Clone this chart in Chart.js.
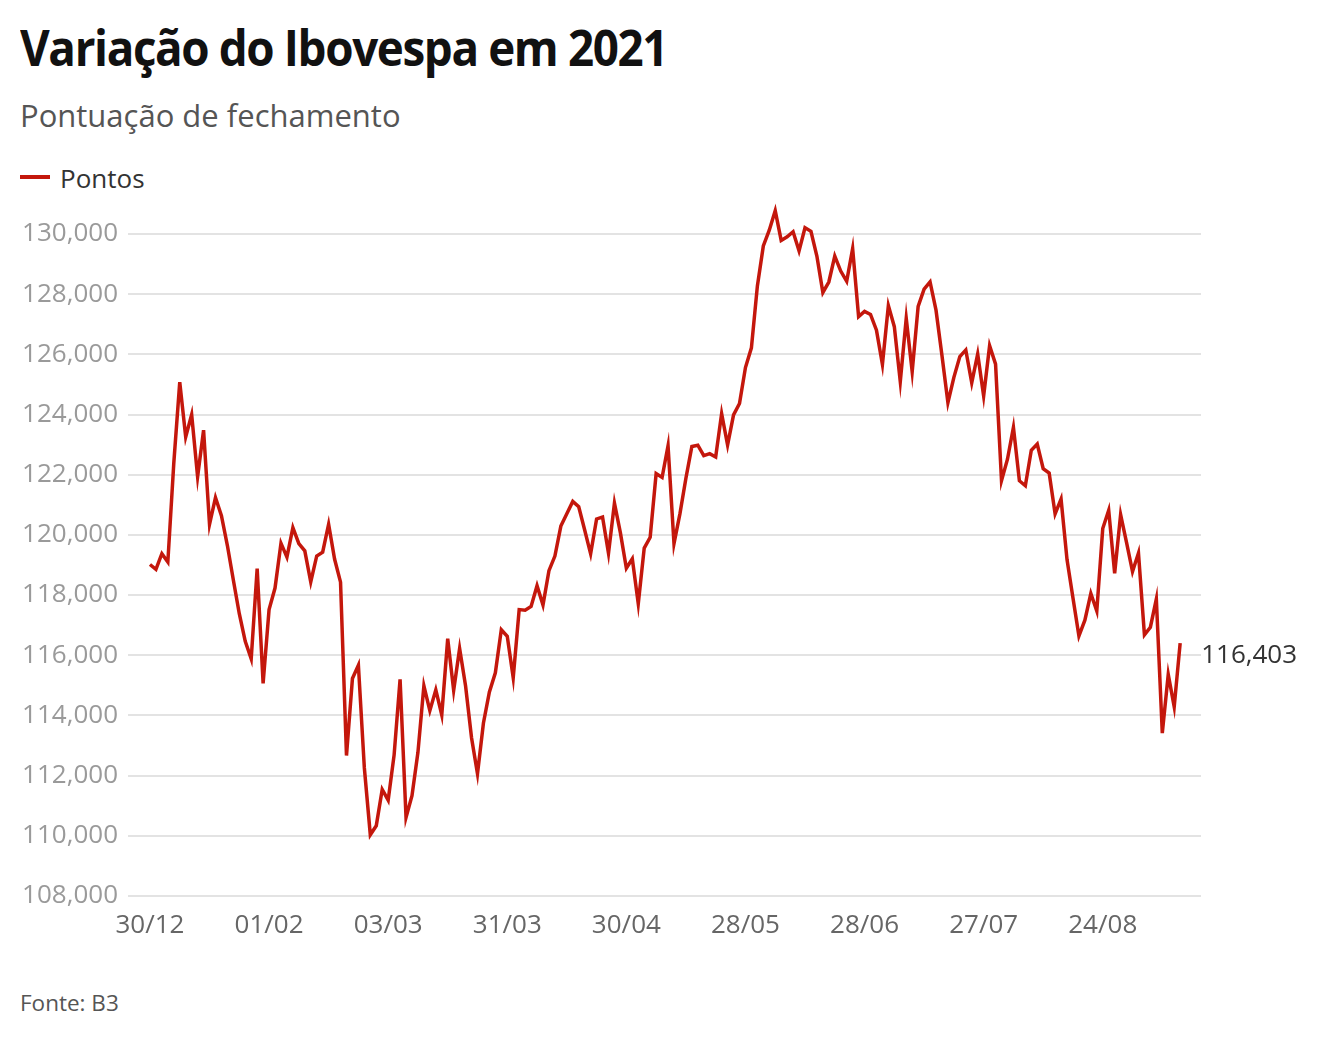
<!DOCTYPE html>
<html lang="pt-BR">
<head>
<meta charset="utf-8">
<script src="https://cdn.jsdelivr.net/npm/chart.js@4/dist/chart.umd.min.js"></script>
<style>
  html, body { margin: 0; padding: 0; background: #fff; }
  body { width: 1340px; height: 1040px; position: relative; overflow: hidden; font-family: 'Open Sans', sans-serif; }
  .txt { position: absolute; left: 20px; white-space: nowrap; line-height: 1; }
  #title { top: 22px; font-size: 50px; font-weight: 700; color: #111; letter-spacing: -1.5px; transform-origin: 0 0; }
  #subtitle { top: 100px; font-size: 31px; color: #555; }
  #legend { top: 165px; font-size: 26px; color: #333; }
  #legend .sw { position: absolute; left: 0; top: 10px; width: 30px; height: 4px; background: #c4170c; }
  #legend span.lbl { margin-left: 40px; }
  #source { top: 992px; font-size: 22.5px; color: #555; }
  #wrap { position: absolute; left: 0; top: 200px; width: 1340px; height: 760px; }
</style>
</head>
<body>
<div class="txt" id="title">Variação do Ibovespa em 2021</div>
<div class="txt" id="subtitle">Pontuação de fechamento</div>
<div class="txt" id="legend"><span class="sw"></span><span class="lbl">Pontos</span></div>
<div class="txt" id="source">Fonte: B3</div>
<div id="wrap"><canvas id="chart"></canvas></div>
<script>
// Trading days (dd/mm), 30/12/2020 to 13/09/2021
const dates = [
  '30/12',
  '04/01','05/01','06/01','07/01','08/01','11/01','12/01','13/01','14/01','15/01',
  '18/01','19/01','20/01','21/01','22/01','26/01','27/01','28/01','29/01',
  '01/02','02/02','03/02','04/02','05/02','08/02','09/02','10/02','11/02','12/02',
  '17/02','18/02','19/02','22/02','23/02','24/02','25/02','26/02',
  '01/03','02/03','03/03','04/03','05/03','08/03','09/03','10/03','11/03','12/03',
  '15/03','16/03','17/03','18/03','19/03','22/03','23/03','24/03','25/03','26/03',
  '29/03','30/03','31/03',
  '01/04','05/04','06/04','07/04','08/04','09/04','12/04','13/04','14/04','15/04',
  '16/04','19/04','20/04','22/04','23/04','26/04','27/04','28/04','29/04','30/04',
  '03/05','04/05','05/05','06/05','07/05','10/05','11/05','12/05','13/05','14/05',
  '17/05','18/05','19/05','20/05','21/05','24/05','25/05','26/05','27/05','28/05','31/05',
  '01/06','02/06','04/06','07/06','08/06','09/06','10/06','11/06','14/06','15/06',
  '16/06','17/06','18/06','21/06','22/06','23/06','24/06','25/06','28/06','29/06','30/06',
  '01/07','02/07','05/07','06/07','07/07','08/07','12/07','13/07','14/07','15/07',
  '16/07','19/07','20/07','21/07','22/07','23/07','26/07','27/07','28/07','29/07','30/07',
  '02/08','03/08','04/08','05/08','06/08','09/08','10/08','11/08','12/08','13/08',
  '16/08','17/08','18/08','19/08','20/08','23/08','24/08','25/08','26/08','27/08',
  '30/08','31/08',
  '01/09','02/09','03/09','06/09','08/09','09/09','10/09','13/09'
];

// Closing points, same order as dates
const pontos = [
  119017,
  118855,119376,119100,122386,125077,123255,123998,121933,123481,120349,
  121241,120636,119646,118500,117381,116464,115882,118883,115067,
  117518,118234,119725,119261,120240,119710,119472,118435,119300,119428,
  120356,119199,118430,112668,115227,115668,112256,110035,
  110335,111540,111184,112690,115202,110611,111331,112776,114984,114160,
  114851,114019,116549,114835,116222,114979,113262,112064,113750,114781,
  115419,116850,116634,
  115253,117518,117499,117624,118313,117670,118812,119297,120294,120701,
  121114,120934,120163,119371,120530,120595,119388,121053,120066,118894,
  119209,117712,119564,119921,122038,121909,122964,119710,120706,121881,
  122938,122980,122636,122701,122592,124032,122988,123989,124367,125561,126216,
  128267,129601,130125,130776,129787,129906,130076,129441,130208,130091,
  129259,128057,128405,129264,128767,128428,129513,127256,127429,127327,126802,
  125666,127622,126920,125095,127200,125428,127594,128168,128406,127469,
  125960,124395,125237,125929,126147,125053,126012,124616,126286,125675,121801,
  122516,123577,121801,121633,122811,123019,122202,122056,120701,121193,
  119180,117904,116643,117165,118053,117472,120211,120818,118724,120677,
  119740,118781,
  119396,116677,116933,117869,113413,115361,114286,116403
];

const xTickIdx = [0, 20, 40, 60, 80, 100, 120, 140, 160];
const yTicks = [108000, 110000, 112000, 114000, 116000, 118000, 120000, 122000, 124000, 126000, 128000, 130000];

const lineColor = '#c4170c';
const fmt = v => v.toLocaleString('en-US');

// squeeze the headline to the reference width
const title = document.getElementById('title');
title.style.transform = 'scaleX(' + (647 / title.offsetWidth) + ')';

// value label next to the last point
const endLabel = {
    id: 'endLabel',
    afterDatasetsDraw(chart) {
        const meta = chart.getDatasetMeta(0);
        const last = meta.data[meta.data.length - 1];
        const ctx = chart.ctx;
        ctx.save();
        ctx.font = '26px "Open Sans"';
        ctx.fillStyle = '#333';
        ctx.textAlign = 'left';
        ctx.textBaseline = 'middle';
        ctx.fillText(fmt(pontos[pontos.length - 1]), last.x + 21, last.y + 12);
        ctx.restore();
    }
};

new Chart(document.getElementById('chart'), {
    type: 'line',
    data: {
        datasets: [{
            label: 'Pontos',
            data: pontos.map((v, i) => ({ x: i, y: v })),
            borderColor: lineColor,
            backgroundColor: lineColor,
            borderWidth: 3.5,
            pointRadius: 0,
            tension: 0,
            clip: false
        }]
    },
    options: {
        responsive: true,
        maintainAspectRatio: false,
        animation: false,
        layout: { padding: { left: 0, right: 139, top: 34, bottom: 0 } },
        plugins: {
            legend: { display: false },
            tooltip: { enabled: false }
        },
        scales: {
            x: {
                type: 'linear',
                min: -3.69,
                max: 176.5,
                grid: { display: false },
                border: { display: false },
                afterBuildTicks: s => { s.ticks = xTickIdx.map(v => ({ value: v })); },
                afterFit: s => { s.height = 64; },
                ticks: {
                    autoSkip: false,
                    maxRotation: 0,
                    padding: 6,
                    color: '#666',
                    font: { family: 'Open Sans', size: 26 },
                    callback: v => dates[v]
                }
            },
            y: {
                min: 108000,
                max: 130000,
                afterBuildTicks: s => { s.ticks = yTicks.map(v => ({ value: v })); },
                afterFit: s => { s.width = 128; },
                grid: { color: '#e3e3e3', lineWidth: 2, drawTicks: false },
                border: { display: false },
                ticks: {
                    padding: 10,
                    color: '#9a9a9a',
                    font: { family: 'Open Sans', size: 26 },
                    callback: v => fmt(v)
                }
            }
        }
    },
    plugins: [endLabel]
});
</script>
</body>
</html>
